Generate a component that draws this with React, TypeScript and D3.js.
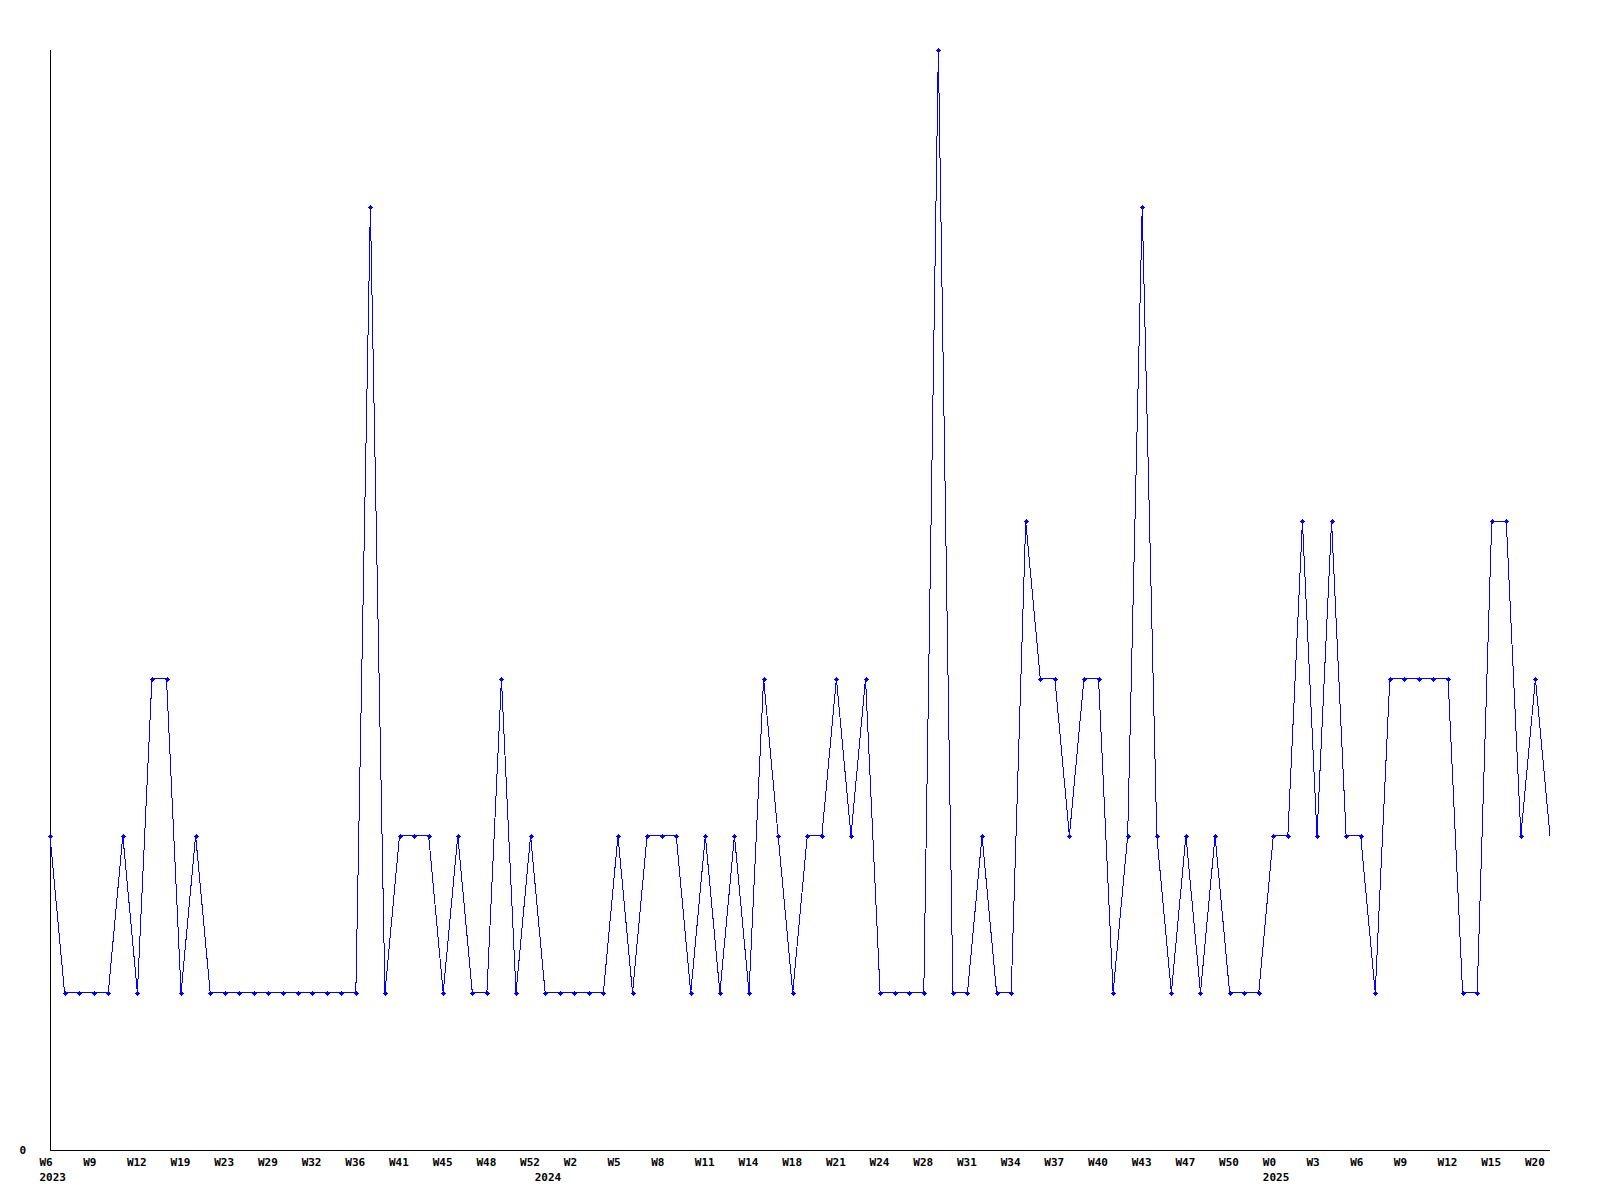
import React from "react";
import * as d3 from "d3";

const values: number[] = [
  2, 1, 1, 1, 1, 2, 1, 3, 3, 1,
  2, 1, 1, 1, 1, 1, 1, 1, 1, 1,
  1, 1, 6, 1, 2, 2, 2, 1, 2, 1,
  1, 3, 1, 2, 1, 1, 1, 1, 1, 2,
  1, 2, 2, 2, 1, 2, 1, 2, 1, 3,
  2, 1, 2, 2, 3, 2, 3, 1, 1, 1,
  1, 7, 1, 1, 2, 1, 1, 4, 3, 3,
  2, 3, 3, 1, 2, 6, 2, 1, 2, 1,
  2, 1, 1, 1, 2, 2, 4, 2, 4, 2,
  2, 1, 3, 3, 3, 3, 3, 1, 1, 4,
  4, 2, 3, 2,
];

const weekLabels: string[] = [
  "W6", "W9", "W12", "W19", "W23", "W29", "W32", "W36", "W41", "W45", "W48", "W52",
  "W2", "W5", "W8", "W11", "W14", "W18", "W21", "W24", "W28", "W31", "W34", "W37",
  "W40", "W43", "W47", "W50", "W0", "W3", "W6", "W9", "W12", "W15", "W20",
];
const labelEvery = 3;

const yearLabels: string[] = ["2023", "2024", "2025"];
const yearIndex: number[] = [0, 34, 84];

const yTickValues: number[] = [0];

export default function App() {
  const W = 1600;
  const H = 1200;
  const left = 50;
  const right = 1550;
  const top = 50;
  const bottom = 1150;

  const x = d3.scaleLinear().domain([0, values.length - 1]).range([left, right]);
  const y = d3.scaleLinear().domain([0, d3.max(values) as number]).range([bottom, top]);

  const line = d3
    .line<number>()
    .x((_, i) => x(i))
    .y((d) => y(d));

  const font = "'DejaVu Sans Mono', monospace";
  const blue = "#0000ff";

  return (
    <svg
      width={W}
      height={H}
      style={{ position: "absolute", left: 0, top: 0, background: "#fff" }}
      xmlns="http://www.w3.org/2000/svg"
    >
      <rect x={0} y={0} width={W} height={H} fill="#fff" />
      {/* axes */}
      <line x1={left + 0.5} y1={top} x2={left + 0.5} y2={bottom} stroke="#000" strokeWidth={1} shapeRendering="crispEdges" />
      <line x1={left} y1={bottom + 0.5} x2={right} y2={bottom + 0.5} stroke="#000" strokeWidth={1} shapeRendering="crispEdges" />

      {yTickValues.map((v) => (
        <text key={v} x={26} y={y(v) + 3.5} textAnchor="end" fontFamily={font} fontWeight="bold" fontSize={11} fill="#000">
          {v}
        </text>
      ))}

      {weekLabels.map((lab, k) => (
        <text
          key={k}
          x={x(k * labelEvery) - 10.5}
          y={1166}
          fontFamily={font}
          fontWeight="bold"
          fontSize={11}
          fill="#000"
        >
          {lab}
        </text>
      ))}

      {yearLabels.map((lab, k) => (
        <text key={lab} x={x(yearIndex[k]) - 10.5} y={1181} fontFamily={font} fontWeight="bold" fontSize={11} fill="#000">
          {lab}
        </text>
      ))}

      <path d={line(values) || ""} fill="none" stroke={blue} strokeWidth={1} shapeRendering="crispEdges" />

      {values.slice(0, values.length - 1).map((v, i) => {
        const cx = Math.round(x(i));
        const cy = Math.round(y(v));
        return (
          <g key={i} fill={blue} shapeRendering="crispEdges">
            <rect x={cx - 1} y={cy - 1} width={3} height={3} />
            <rect x={cx - 2} y={cy} width={5} height={1} />
            <rect x={cx} y={cy - 2} width={1} height={5} />
          </g>
        );
      })}
    </svg>
  );
}
